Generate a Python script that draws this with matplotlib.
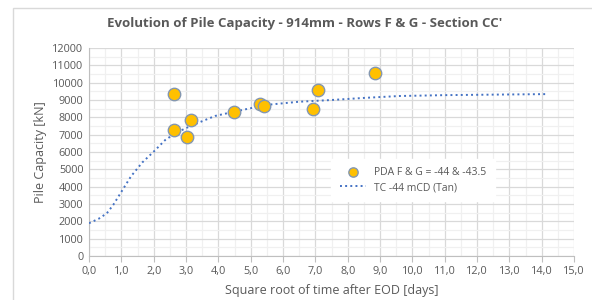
import matplotlib.pyplot as plt
from matplotlib.patches import Rectangle
from matplotlib.ticker import MultipleLocator, FuncFormatter

plt.rcParams['font.family'] = ['Open Sans', 'DejaVu Sans']

# PDA measurements
pda_x = [2.63, 2.63, 3.02, 3.16, 4.48, 5.29, 5.40, 6.92, 7.07, 8.84]
pda_y = [9370, 7270, 6880, 7850, 8290, 8750, 8650, 8460, 9580, 10540]

# TC -44 mCD (Tan) curve
tc_x = [0.0, 0.3, 0.55, 0.75, 1.0, 1.3, 1.65, 2.0, 2.35, 2.65, 3.0, 3.4, 3.9,
        4.5, 5.5, 6.5, 7.5, 8.5, 9.6, 11.0, 12.5, 14.17]
tc_y = [1890, 2150, 2460, 2950, 3700, 4600, 5400, 6020, 6680, 7060, 7380, 7700,
        8080, 8330, 8720, 8900, 9000, 9120, 9230, 9280, 9310, 9340]

title = "Evolution of Pile Capacity - 914mm - Rows F & G - Section CC'"
grey = '#595959'

fig = plt.figure(figsize=(5.92, 3.0), dpi=100)
fig.patches.append(Rectangle((13 / 592, -0.1), 1.1, 1 - 8 / 300 + 0.1,
                             transform=fig.transFigure, fill=False,
                             edgecolor='#d9d9d9', lw=1))
ax = fig.add_axes([89 / 592, 1 - 256 / 300, 485 / 592, 208 / 300])

ax.plot(tc_x, tc_y, linestyle=':', color='#4472C4', lw=1.4,
        label='TC -44 mCD (Tan)', zorder=3)
ax.scatter(pda_x, pda_y, s=80, color='#FFC000', edgecolor='#8497B0',
           linewidth=1, label='PDA F & G = -44 & -43.5', zorder=4)

ax.set_xlim(0, 15)
ax.set_ylim(0, 12000)
ax.xaxis.set_major_locator(MultipleLocator(1))
ax.xaxis.set_minor_locator(MultipleLocator(0.5))
ax.yaxis.set_major_locator(MultipleLocator(1000))
ax.yaxis.set_minor_locator(MultipleLocator(500))
ax.xaxis.set_major_formatter(FuncFormatter(lambda v, p: f'{v:.1f}'.replace('.', ',')))
ax.grid(which='major', color='#d9d9d9', lw=0.9)
ax.grid(which='minor', color='#f0f0f0', lw=0.9)
ax.set_axisbelow(True)
for s in ['top', 'right']:
    ax.spines[s].set_visible(False)
for s in ['left', 'bottom']:
    ax.spines[s].set_color('#bfbfbf')
ax.tick_params(axis='x', which='major', length=4, color='#bfbfbf',
               labelsize=7.8, labelcolor=grey, pad=3)
ax.tick_params(axis='x', which='minor', length=0)
ax.tick_params(axis='y', which='both', length=0, labelsize=7.8,
               labelcolor=grey, pad=4)

ax.set_xlabel('Square root of time after EOD [days]', fontsize=9, color=grey,
              labelpad=5)
ax.set_ylabel('Pile Capacity [kN]', fontsize=9, color=grey, labelpad=4)
fig.text(0.515, 1 - 24 / 300, title, ha='center', va='center', fontsize=9.5,
         fontweight='bold', color=grey)

handles, labels = ax.get_legend_handles_labels()
leg = ax.legend(handles[::-1], labels[::-1], loc='center',
                bbox_to_anchor=((413 - 89) / 485, (256 - 180) / 208),
                frameon=True, fontsize=7.5, handlelength=2.5, markerscale=0.75,
                borderpad=0.8, borderaxespad=0, labelspacing=0.4,
                fancybox=False)
leg.get_frame().set_edgecolor('white')
leg.get_frame().set_alpha(1)
for t in leg.get_texts():
    t.set_color(grey)

fig.savefig('out.png', dpi=100)
